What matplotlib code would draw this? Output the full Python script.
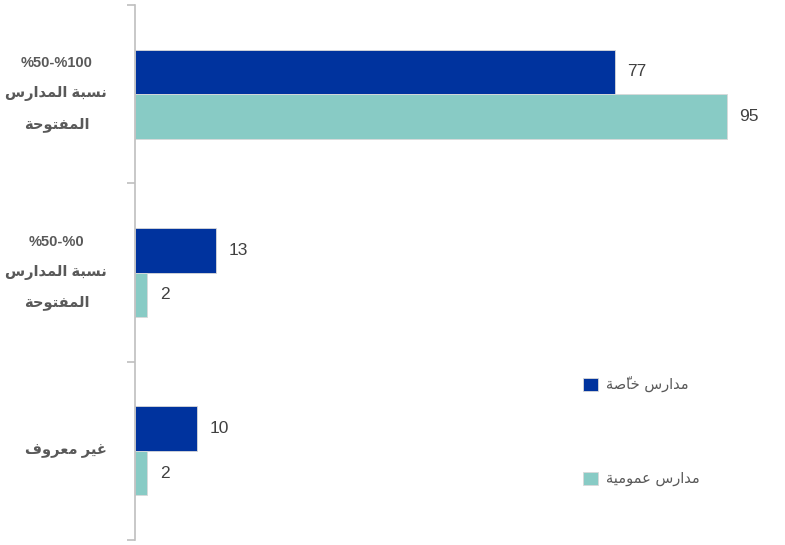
import matplotlib
matplotlib.use("Agg")
import matplotlib.pyplot as plt
import numpy as np

# ---------------- data ----------------
categories = ["%50-%100\nنسبة المدارس\nالمفتوحة",
              "%50-%0\nنسبة المدارس\nالمفتوحة",
              "غير معروف"]
private_vals = [77, 13, 10]
public_vals = [95, 2, 2]
series_names = ["مدارس خاصّة", "مدارس عمومية"]

# ---------------- minimal Arabic shaping (presentation forms, visual order) ----------------
_DUAL = {0x0626: 0xFE89, 0x0628: 0xFE8F, 0x062A: 0xFE95, 0x062B: 0xFE99, 0x062C: 0xFE9D,
         0x062D: 0xFEA1, 0x062E: 0xFEA5, 0x0633: 0xFEB1, 0x0634: 0xFEB5, 0x0635: 0xFEB9,
         0x0636: 0xFEBD, 0x0637: 0xFEC1, 0x0638: 0xFEC5, 0x0639: 0xFEC9, 0x063A: 0xFECD,
         0x0641: 0xFED1, 0x0642: 0xFED5, 0x0643: 0xFED9, 0x0644: 0xFEDD, 0x0645: 0xFEE1,
         0x0646: 0xFEE5, 0x0647: 0xFEE9, 0x064A: 0xFEF1}
_RIGHT = {0x0622: 0xFE81, 0x0623: 0xFE83, 0x0624: 0xFE85, 0x0625: 0xFE87, 0x0627: 0xFE8D,
          0x0629: 0xFE93, 0x062F: 0xFEA9, 0x0630: 0xFEAB, 0x0631: 0xFEAD, 0x0632: 0xFEAF,
          0x0648: 0xFEED, 0x0649: 0xFEEF}
_LAMALEF = {0x0622: 0xFEF5, 0x0623: 0xFEF7, 0x0625: 0xFEF9, 0x0627: 0xFEFB}


def _is_mark(c):
    return 0x064B <= ord(c) <= 0x065F or ord(c) == 0x0670


def _shape_word(s):
    units = []
    for ch in s:
        if _is_mark(ch) and units:
            units[-1][1].append(ch)
        else:
            units.append([ch, []])
    merged = []
    i = 0
    while i < len(units):
        b = units[i][0]
        if ord(b) == 0x0644 and i + 1 < len(units) and ord(units[i + 1][0]) in _LAMALEF:
            merged.append(["LA" + units[i + 1][0], units[i][1] + units[i + 1][1]])
            i += 2
        else:
            merged.append(units[i])
            i += 1

    def kind(b):
        if b.startswith("LA") and len(b) == 3:
            return "R"
        o = ord(b)
        if o in _DUAL:
            return "D"
        if o in _RIGHT:
            return "R"
        return "N"

    out = []
    for j, (b, marks) in enumerate(merged):
        k = kind(b)
        prev_join = j > 0 and kind(merged[j - 1][0]) == "D"
        next_join = j + 1 < len(merged) and kind(merged[j + 1][0]) in ("D", "R")
        if k == "N":
            g = b
        elif b.startswith("LA") and len(b) == 3:
            g = chr(_LAMALEF[ord(b[2])] + (1 if prev_join else 0))
        elif k == "R":
            g = chr(_RIGHT[ord(b)] + (1 if prev_join else 0))
        else:
            base = _DUAL[ord(b)]
            if prev_join and next_join:
                g = chr(base + 3)
            elif prev_join:
                g = chr(base + 1)
            elif next_join:
                g = chr(base + 2)
            else:
                g = chr(base)
        out.append(g + "".join(marks))
    return out


def ar(text):
    lines = []
    for line in text.split("\n"):
        if not any(0x0600 <= ord(c) <= 0x06FF for c in line):
            lines.append(line)
            continue
        lines.append("".join(reversed(_shape_word(line))))
    return "\n".join(lines)


# ---------------- plot ----------------
dark = "#00339E"
light = "#88CBC5"
grey_text = "#595959"

fig = plt.figure(figsize=(7.85, 5.45), dpi=100)
ax = fig.add_axes([135 / 785, 5 / 545, 623 / 785, 535 / 545])

n = len(categories)
y = np.arange(n)[::-1].astype(float)  # first category at top
h = 0.25
b1 = ax.barh(y + h / 2, private_vals, height=h, color=dark, edgecolor="#d9d9d9",
             linewidth=0.6, label=ar(series_names[0]))
b2 = ax.barh(y - h / 2, public_vals, height=h, color=light, edgecolor="#d9d9d9",
             linewidth=0.6, label=ar(series_names[1]))

for bars, vals in ((b1, private_vals), (b2, public_vals)):
    for rect, v in zip(bars, vals):
        ax.annotate(str(v), (rect.get_width(), rect.get_y() + rect.get_height() / 2),
                    xytext=(9, 0), textcoords="offset points", va="center", ha="left",
                    fontsize=12.5, color="#404040", family=["Liberation Sans", "DejaVu Sans"])

ax.set_xlim(0, 100)
ax.set_ylim(-0.5, n - 0.5)
ax.xaxis.set_visible(False)
for s in ("top", "right", "bottom"):
    ax.spines[s].set_visible(False)
ax.spines["left"].set_color("#bfbfbf")
ax.spines["left"].set_linewidth(1.2)

ax.set_yticks(y)
ax.set_yticklabels([ar(c) for c in categories], fontsize=10.5, fontweight="bold",
                   color=grey_text, multialignment="center", linespacing=2.45,
                   family=["Liberation Sans", "DejaVu Sans"])
for lab in ax.get_yticklabels():
    lab.set_verticalalignment("center")
ax.tick_params(axis="y", which="major", length=0, pad=20)
ax.set_yticks(np.arange(-0.5, n, 1.0), minor=True)
ax.tick_params(axis="y", which="minor", length=6, width=1.2, color="#bfbfbf")

leg = ax.legend(loc="upper left", bbox_to_anchor=(435 / 623, 1 - 358 / 535), frameon=False,
                handlelength=1.0, handleheight=1.0, labelspacing=5.4, handletextpad=0.6,
                prop={"family": ["DejaVu Sans"], "size": 10.5})
for t in leg.get_texts():
    t.set_color(grey_text)

fig.savefig("out.png", dpi=100)
